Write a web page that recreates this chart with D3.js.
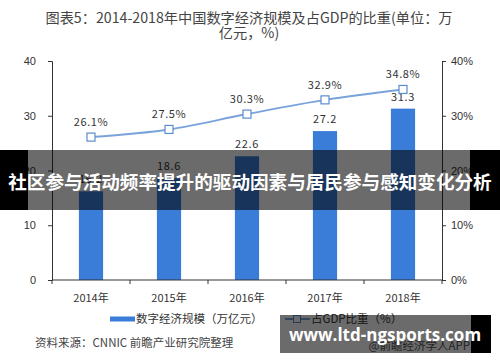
<!DOCTYPE html>
<html>
<head>
<meta charset="utf-8">
<script src="https://cdn.jsdelivr.net/npm/d3@7"></script>
<style>
  body { margin: 0; background: #fff; }
  svg { display: block; font-family: "Noto Sans CJK SC", "Noto Sans", sans-serif; }
</style>
</head>
<body>
<div id="chart"></div>
<script>
    // data
    years = ["2014年", "2015年", "2016年", "2017年", "2018年"]
    scale_vals = [16.2, 18.6, 22.6, 27.2, 31.3]
    gdp_share = [26.1, 27.5, 30.3, 32.9, 34.8]
    left_ticks = [0, 10, 20, 30, 40]
    right_ticks = [0, 10, 20, 30, 40]

    canvas = ({width: 500, height: 362})
    margin = ({top: 61, right: 58, bottom: 82, left: 52})
    blue = "#3a7dd9"
    line_blue = "#7aa3db"

    var svg = d3.select("#chart").append("svg")
        .attr("width", canvas.width)
        .attr("height", canvas.height)

    // title
    title = svg.append("text")
        .attr("text-anchor", "middle")
        .attr("fill", "#444")
        .attr("font-size", 14.2)
    title.append("tspan").attr("x", 249).attr("y", 23)
        .text("图表5：2014-2018年中国数字经济规模及占GDP的比重(单位：万")
    title.append("tspan").attr("x", 249).attr("y", 38)
        .text("亿元，%)")

    // scales
    x = d3.scaleBand()
        .domain(years)
        .range([margin.left, canvas.width - margin.right])
        .paddingInner(0.69)
        .paddingOuter(0.345)

    y = d3.scaleLinear()
        .domain([0, 40])
        .range([canvas.height - margin.bottom, margin.top])

    y2 = d3.scaleLinear()
        .domain([0, 40])
        .range([canvas.height - margin.bottom, margin.top])

    // bars
    svg.append("g")
        .selectAll("rect")
        .data(scale_vals)
        .join("rect")
        .attr("x", (d, i) => x(years[i]))
        .attr("y", d => y(d))
        .attr("width", x.bandwidth())
        .attr("height", d => y(0) - y(d))
        .attr("fill", blue)

    svg.append("g")
        .selectAll("text")
        .data(scale_vals)
        .join("text")
        .attr("x", (d, i) => x(years[i]) + x.bandwidth() / 2)
        .attr("y", d => y(d) - 8)
        .attr("text-anchor", "middle")
        .attr("font-size", 11)
        .attr("letter-spacing", 0.6)
        .attr("fill", "#333")
        .text(d => d.toFixed(1))

    // axes
    xAxis = g => g
        .attr("transform", `translate(0,${y(0)})`)
        .call(g => g.append("line")
            .attr("x1", margin.left).attr("x2", canvas.width - margin.right)
            .attr("stroke", "#333"))
        .call(g => g.selectAll(".tk")
            .data(d3.range(years.length + 1))
            .join("line")
            .attr("x1", i => margin.left + i * x.step())
            .attr("x2", i => margin.left + i * x.step())
            .attr("y1", 0).attr("y2", 4)
            .attr("stroke", "#333"))
        .call(g => g.selectAll("text")
            .data(years)
            .join("text")
            .attr("x", d => x(d) + x.bandwidth() / 2)
            .attr("y", 22)
            .attr("text-anchor", "middle")
            .attr("font-size", 11)
            .attr("fill", "#333")
            .text(d => d))

    yAxis = g => g
        .attr("transform", `translate(${margin.left},0)`)
        .call(d3.axisLeft(y).tickValues(left_ticks).tickSize(4).tickPadding(12))
        .call(g => g.selectAll(".tick text").attr("font-size", 11).attr("fill", "#333").attr("font-family", null))
        .call(g => g.selectAll("line, path").attr("stroke", "#333"))

    y2Axis = g => g
        .attr("transform", `translate(${canvas.width - margin.right},0)`)
        .call(d3.axisRight(y2).tickValues(right_ticks).tickSize(4).tickPadding(5).tickFormat(d => d + "%"))
        .call(g => g.selectAll(".tick text").attr("font-size", 11).attr("fill", "#333").attr("font-family", null))
        .call(g => g.selectAll("line, path").attr("stroke", "#333"))

    svg.append("g").call(xAxis)
    svg.append("g").call(yAxis)
    svg.append("g").call(y2Axis)

    // line
    line = d3.line()
        .x((d, i) => x(years[i]) + x.bandwidth() / 2)
        .y(d => y2(d))
        .curve(d3.curveMonotoneX)

    svg.append("path")
        .attr("fill", "none")
        .attr("stroke", line_blue)
        .attr("stroke-width", 2)
        .attr("d", line(gdp_share))

    svg.append("g")
        .selectAll("rect")
        .data(gdp_share)
        .join("rect")
        .attr("x", (d, i) => x(years[i]) + x.bandwidth() / 2 - 4)
        .attr("y", d => y2(d) - 4)
        .attr("width", 8)
        .attr("height", 8)
        .attr("fill", "#fff")
        .attr("stroke", "#5b8ccf")
        .attr("stroke-width", 1.2)

    svg.append("g")
        .selectAll("text")
        .data(gdp_share)
        .join("text")
        .attr("x", (d, i) => x(years[i]) + x.bandwidth() / 2)
        .attr("y", d => y2(d) - 11)
        .attr("text-anchor", "middle")
        .attr("font-size", 11)
        .attr("letter-spacing", 0.6)
        .attr("fill", "#333")
        .text(d => d.toFixed(1) + "%")

    // legend
    legend = svg.append("g").attr("font-size", 11.5).attr("fill", "#333")
    legend.append("rect").attr("x", 110).attr("y", 316.5).attr("width", 25).attr("height", 5).attr("fill", blue)
    legend.append("text").attr("x", 136).attr("y", 323).text("数字经济规模（万亿元）")
    legend.append("line").attr("x1", 285).attr("x2", 310).attr("y1", 319).attr("y2", 319)
        .attr("stroke", line_blue).attr("stroke-width", 2)
    legend.append("rect").attr("x", 293.5).attr("y", 315.5).attr("width", 7).attr("height", 7)
        .attr("fill", "#fff").attr("stroke", "#5b8ccf")
    legend.append("text").attr("x", 311).attr("y", 323).text("占GDP比重（%）")

    // source
    svg.append("text")
        .attr("x", 35).attr("y", 347)
        .attr("font-size", 11.5)
        .attr("fill", "#444")
        .text("资料来源：CNNIC 前瞻产业研究院整理")

    svg.append("text")
        .attr("x", 470).attr("y", 350)
        .attr("text-anchor", "end")
        .attr("font-size", 11.5)
        .attr("fill", "#555")
        .text("@前瞻经济学人APP")

    // overlay banner: black edges, translucent dark middle
    svg.append("rect").attr("x", 0).attr("y", 150).attr("width", 28).attr("height", 60).attr("fill", "#000")
    svg.append("rect").attr("x", 470).attr("y", 150).attr("width", 30).attr("height", 60).attr("fill", "#000")
    svg.append("rect").attr("x", 28).attr("y", 150).attr("width", 442).attr("height", 60)
        .attr("fill", "#000").attr("opacity", 0.58)
    svg.append("text")
        .attr("x", 250).attr("y", 189)
        .attr("text-anchor", "middle")
        .attr("font-size", 18.6)
        .attr("font-weight", "bold")
        .attr("fill", "#fff")
        .text("社区参与活动频率提升的驱动因素与居民参与感知变化分析")

    // bottom banner
    svg.append("rect").attr("x", 471).attr("y", 315).attr("width", 20).attr("height", 38).attr("fill", "#000")
    svg.append("rect").attr("x", 280).attr("y", 315).attr("width", 191).attr("height", 38)
        .attr("fill", "#000").attr("opacity", 0.58)
    svg.append("text")
        .attr("x", 385).attr("y", 341)
        .attr("text-anchor", "middle")
        .attr("font-size", 17)
        .attr("font-weight", "bold")
        .attr("font-family", "Open Sans, DejaVu Sans, sans-serif")
        .attr("fill", "#fff")
        .text("www.ltd-ngsports.com")
</script>
</body>
</html>
